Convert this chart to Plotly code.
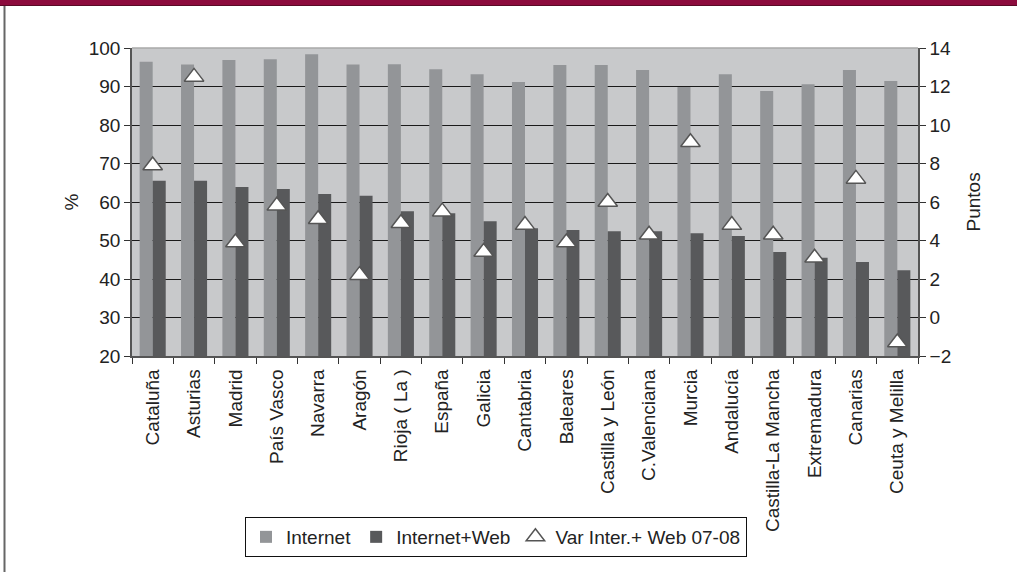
import plotly.graph_objects as go

categories = ["Cataluña", "Asturias", "Madrid", "País Vasco", "Navarra", "Aragón",
              "Rioja ( La )", "España", "Galicia", "Cantabria", "Baleares",
              "Castilla y León", "C.Valenciana", "Murcia", "Andalucía",
              "Castilla-La Mancha", "Extremadura", "Canarias", "Ceuta y Melilla"]
internet = [96.4, 95.7, 96.9, 97.1, 98.4, 95.7, 95.8, 94.5, 93.2, 91.2, 95.6,
            95.6, 94.3, 89.9, 93.2, 88.8, 90.6, 94.3, 91.4]
internet_web = [65.5, 65.5, 63.9, 63.4, 62.1, 61.6, 57.6, 57.1, 55.0, 53.2, 52.7,
                52.4, 52.4, 51.9, 51.2, 47.0, 45.5, 44.4, 42.3]
var_07_08 = [7.9, 12.5, 3.9, 5.8, 5.1, 2.2, 4.9, 5.5, 3.4, 4.8, 3.9,
             6.0, 4.3, 9.1, 4.8, 4.3, 3.1, 7.2, -1.3]

FONT = "Liberation Sans, Arial, sans-serif"

fig = go.Figure()
fig.add_trace(go.Bar(x=categories, y=internet, name="Internet",
                     marker=dict(color="#939598", line=dict(width=0))))
fig.add_trace(go.Bar(x=categories, y=internet_web, name="Internet+Web",
                     marker=dict(color="#58595B", line=dict(width=0))))
fig.add_trace(go.Scatter(x=categories, y=var_07_08, name="Var Inter.+ Web 07-08",
                         yaxis="y2", mode="markers",
                         marker=dict(symbol="triangle-up", size=17, color="white",
                                     line=dict(color="#555555", width=1.5))))

L, R, T, B = 132, 99, 48, 216
W, H = 1017, 572
pw, ph = W - L - R, H - T - B

def px(x):
    return (x - L) / pw

def py(y):
    return (H - B - y) / ph

fig.update_layout(
    width=W, height=H,
    margin=dict(l=L, r=R, t=T, b=B),
    paper_bgcolor="white",
    plot_bgcolor="#C8C9CB",
    barmode="group",
    bargap=0.37,
    bargroupgap=0,
    font=dict(family=FONT, size=18, color="#222222"),
    showlegend=True,
    legend=dict(orientation="h", x=px(496), xanchor="center", y=py(517), yanchor="top",
                bordercolor="#111111", borderwidth=1, bgcolor="white",
                font=dict(size=19), itemwidth=30, tracegroupgap=0),
    xaxis=dict(type="category", range=[-0.5, len(categories) - 0.5], tickangle=-90,
               showgrid=False,
               showline=True, linecolor="#555555", linewidth=1.5,
               ticks="outside", tickson="boundaries", ticklen=6, tickcolor="#333333",
               ticklabelstandoff=4,
               tickfont=dict(size=19)),
    yaxis=dict(range=[20, 100], dtick=10, showgrid=True, gridcolor="#1a1a1a", gridwidth=1,
               showline=True, linecolor="#555555", linewidth=1.5,
               ticks="outside", ticklen=6, tickcolor="#333333", zeroline=False,
               tickfont=dict(size=19)),
    yaxis2=dict(range=[-2, 14], dtick=2, overlaying="y", side="right", showgrid=False,
                showline=True, linecolor="#555555", linewidth=1.5,
                ticks="outside", ticklen=6, tickcolor="#333333", zeroline=False,
                tickfont=dict(size=19)),
    annotations=[
        dict(text="%", x=px(58), y=py(202), xref="paper", yref="paper", showarrow=False,
             textangle=-90, font=dict(size=19)),
        dict(text="Puntos", x=px(985), y=py(202), xref="paper", yref="paper", showarrow=False,
             textangle=-90, font=dict(size=19)),
    ],
    shapes=[
        dict(type="rect", xref="paper", yref="paper", x0=px(0), x1=px(W), y0=py(0), y1=py(5),
             fillcolor="#8C0B3D", line=dict(width=0), layer="above"),
        dict(type="line", xref="paper", yref="paper", x0=px(0), x1=px(W), y0=py(5.5), y1=py(5.5),
             line=dict(color="#5A0A26", width=1)),
        dict(type="line", xref="paper", yref="paper", x0=px(4.5), x1=px(4.5), y0=py(6), y1=py(H),
             line=dict(color="#666666", width=2)),
        dict(type="line", xref="paper", yref="paper", x0=0, x1=1, y0=1, y1=1,
             line=dict(color="#A8A8A8", width=1.5)),
    ],
)

fig.write_html("out.html", config={"displayModeBar": False},
               post_script="document.body.style.margin='0';document.body.style.overflow='hidden';")
